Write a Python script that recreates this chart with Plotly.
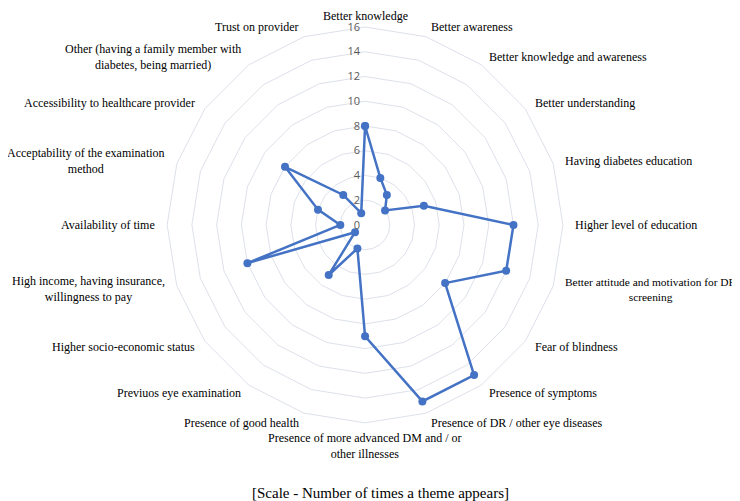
import math
import plotly.graph_objects as go

themes = [
    "Better knowledge", "Better awareness", "Better knowledge and awareness",
    "Better understanding", "Having diabetes education", "Higher level of education",
    "Better attitude and motivation for DR<br>screening", "Fear of blindness",
    "Presence of symptoms", "Presence of DR / other eye diseases",
    "Presence of more advanced DM and / or<br>other illnesses", "Presence of good health",
    "Previuos eye examination", "Higher socio-economic status",
    "High income, having insurance,<br>willingness to pay", "Availability of time",
    "Acceptability of the examination<br>method", "Accessibility to healthcare provider",
    "Other (having a family member with<br>diabetes, being married)", "Trust on provider",
]
counts = [8, 4, 3, 2, 5, 12, 12, 8, 15, 15, 9, 2, 5, 1, 10, 2, 4, 8, 3, 1]

W, H = 740, 501
blue = "#4472C4"
grid = "#dde1ea"
dom_x = [0.215, 0.75]
dom_y = [0.172, 0.962]

fig = go.Figure()
fig.add_trace(go.Scatterpolar(
    r=counts + counts[:1], theta=themes + themes[:1],
    mode="lines+markers",
    line=dict(color=blue, width=2.5),
    marker=dict(color=blue, size=8),
    showlegend=False,
))

# category labels placed as annotations just outside the outer ring
cx = (dom_x[0] + dom_x[1]) / 2 * W
cy = (dom_y[0] + dom_y[1]) / 2 * H
R = (dom_x[1] - dom_x[0]) * W / 2 + 10
annots = []
for i, name in enumerate(themes):
    a = math.radians(i * 360 / len(themes))
    x = cx + R * math.sin(a)
    y = cy + R * math.cos(a)
    s = math.sin(a)
    if abs(s) < 0.05:
        xa = "center"
        ya = "bottom" if math.cos(a) > 0 else "top"
        y = min(y, H - 17) if ya == "bottom" else y + 4
    else:
        xa = "left" if s > 0 else "right"
        ya = "middle"
    size = 11.4 if i == 6 else 12
    annots.append(dict(
        text=name, x=x / W, y=y / H, xref="paper", yref="paper",
        xanchor=xa, yanchor=ya, align="center", showarrow=False,
        font=dict(family="Liberation Serif", size=size, color="black"),
    ))

annots.append(dict(
    text="[Scale - Number of times a theme appears]",
    x=372 / W, y=(H - 485) / H, xref="paper", yref="paper",
    xanchor="center", yanchor="middle", showarrow=False,
    font=dict(family="Liberation Serif", size=15, color="black"),
))

fig.update_layout(
    width=W, height=H,
    margin=dict(l=0, r=0, t=0, b=0),
    paper_bgcolor="white",
    polar=dict(
        domain=dict(x=dom_x, y=dom_y),
        bgcolor="white",
        gridshape="linear",
        angularaxis=dict(
            rotation=90, direction="clockwise",
            showgrid=False, showline=True, linecolor=grid, linewidth=1,
            ticks="", showticklabels=False,
        ),
        radialaxis=dict(
            range=[0, 16], dtick=2, angle=90, tickangle=90, side="counterclockwise",
            showline=False, gridcolor=grid, gridwidth=1, ticks="",
            ticksuffix="\u00a0",
            tickfont=dict(family="Open Sans", size=11, color="#595959"),
        ),
    ),
    annotations=annots,
)

fig.write_html("out.html")
